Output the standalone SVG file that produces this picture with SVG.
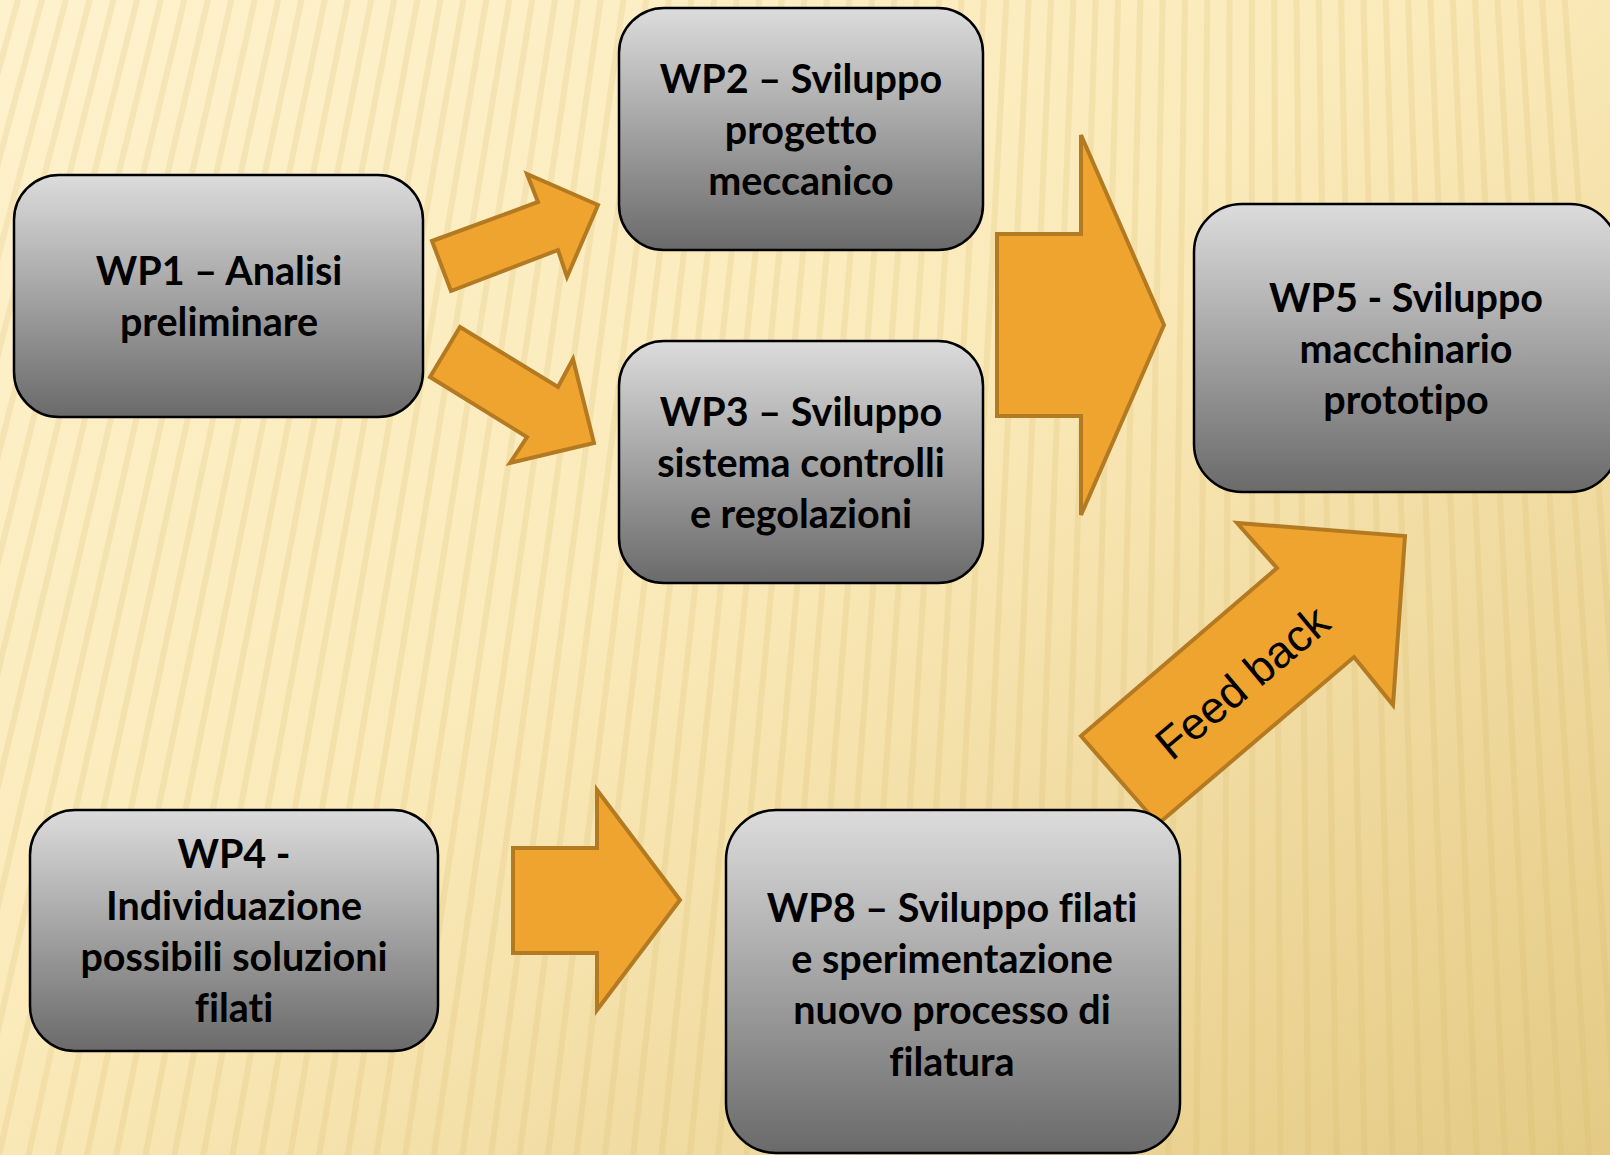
<svg xmlns="http://www.w3.org/2000/svg" xmlns:xlink="http://www.w3.org/1999/xlink" width="1610" height="1155" viewBox="0 0 1610 1155">
<style>
.box{stroke:#000;stroke-width:2.5;fill:url(#boxg)}
.lbl{font-family:Lato,"Open Sans","Liberation Sans",sans-serif;font-weight:bold;font-size:39.5px;fill:#000;text-anchor:middle;font-variant-ligatures:none;font-feature-settings:"liga" 0,"clig" 0}
.arr{fill:#EFA430;stroke:#B47A22;stroke-width:4;stroke-linejoin:miter}
.fb{font-family:"Liberation Sans",Arial,sans-serif;font-size:45px;fill:#000;text-anchor:middle}
.stripe{stroke:#D8BA68;stroke-width:6;opacity:0.2}
</style>
<defs>
<linearGradient id="boxg" x1="0" y1="0" x2="0" y2="1">
<stop offset="0" stop-color="#dcdcdc"/>
<stop offset="1" stop-color="#6a6a6a"/>
</linearGradient>
<linearGradient id="bgg" x1="0" y1="0" x2="1" y2="1">
<stop offset="0" stop-color="#FEF2CD"/>
<stop offset="0.45" stop-color="#FBEABA"/>
<stop offset="1" stop-color="#E4CA84"/>
</linearGradient>
<line id="s1" class="stripe" x1="1250" y1="-4500" x2="1250" y2="1700"/>
<g id="s10">
<use xlink:href="#s1"/>
<use xlink:href="#s1" transform="rotate(0.284 1250 -4500)"/>
<use xlink:href="#s1" transform="rotate(0.568 1250 -4500)"/>
<use xlink:href="#s1" transform="rotate(0.852 1250 -4500)"/>
<use xlink:href="#s1" transform="rotate(1.136 1250 -4500)"/>
<use xlink:href="#s1" transform="rotate(1.42 1250 -4500)"/>
<use xlink:href="#s1" transform="rotate(1.704 1250 -4500)"/>
<use xlink:href="#s1" transform="rotate(1.988 1250 -4500)"/>
<use xlink:href="#s1" transform="rotate(2.272 1250 -4500)"/>
<use xlink:href="#s1" transform="rotate(2.556 1250 -4500)"/>
</g>
</defs>
<g id="background">
<rect x="0" y="0" width="1610" height="1155" fill="url(#bgg)"/>
<use xlink:href="#s10" transform="rotate(-4 1250 -4500)"/>
<use xlink:href="#s10" transform="rotate(-1.16 1250 -4500)"/>
<use xlink:href="#s10" transform="rotate(1.68 1250 -4500)"/>
<use xlink:href="#s10" transform="rotate(4.52 1250 -4500)"/>
<use xlink:href="#s10" transform="rotate(7.36 1250 -4500)"/>
<use xlink:href="#s10" transform="rotate(10.2 1250 -4500)"/>
<use xlink:href="#s10" transform="rotate(13.04 1250 -4500)"/>
<use xlink:href="#s10" transform="rotate(15.88 1250 -4500)"/>
</g>
<g id="connectors">
<polygon id="a1" class="arr" points="432,241 538,202 527,174 598,205 567,277 558,250 451,291"/>
<polygon id="a2" class="arr" points="460,327 558,387 573,359 594,443 510,463 527,437 430,377"/>
<polygon id="a3" class="arr" points="997,234 1081,234 1081,135 1164,325 1081,515 1081,416 997,416"/>
<polygon id="a4" class="arr" points="513,848 597,848 597,790 680,900 597,1010 597,953 513,953"/>
<polygon id="a5" class="arr" points="1081,736 1277,568 1237,523 1405,536 1393,705 1354,657 1158,824"/>
<text class="fb" transform="translate(1242,682) rotate(-40)" x="0" y="16">Feed back</text>
</g>
<g id="wp1">
<rect class="box" x="14" y="175" width="409" height="242" rx="45"/>
<text class="lbl" x="219" y="285">WP1 – Analisi</text>
<text class="lbl" x="219" y="336">preliminare</text>
</g>
<g id="wp2">
<rect class="box" x="619" y="8" width="364" height="242" rx="45"/>
<text class="lbl" x="801" y="93">WP2 – Sviluppo</text>
<text class="lbl" x="801" y="144">progetto</text>
<text class="lbl" x="801" y="195">meccanico</text>
</g>
<g id="wp3">
<rect class="box" x="619" y="341" width="364" height="242" rx="45"/>
<text class="lbl" x="801" y="426">WP3 – Sviluppo</text>
<text class="lbl" x="801" y="477">sistema controlli</text>
<text class="lbl" x="801" y="528">e regolazioni</text>
</g>
<g id="wp5">
<rect class="box" x="1194" y="204" width="424" height="288" rx="48"/>
<text class="lbl" x="1406" y="312">WP5 - Sviluppo</text>
<text class="lbl" x="1406" y="363">macchinario</text>
<text class="lbl" x="1406" y="414">prototipo</text>
</g>
<g id="wp4">
<rect class="box" x="30" y="810" width="408" height="241" rx="45"/>
<text class="lbl" x="234" y="868">WP4 -</text>
<text class="lbl" x="234" y="920">Individuazione</text>
<text class="lbl" x="234" y="971">possibili soluzioni</text>
<text class="lbl" x="234" y="1022">filati</text>
</g>
<g id="wp8">
<rect class="box" x="726" y="810" width="454" height="343" rx="50"/>
<text class="lbl" x="952" y="922">WP8 – Sviluppo filati</text>
<text class="lbl" x="952" y="973">e sperimentazione</text>
<text class="lbl" x="952" y="1024">nuovo processo di</text>
<text class="lbl" x="952" y="1076">filatura</text>
</g>
</svg>
